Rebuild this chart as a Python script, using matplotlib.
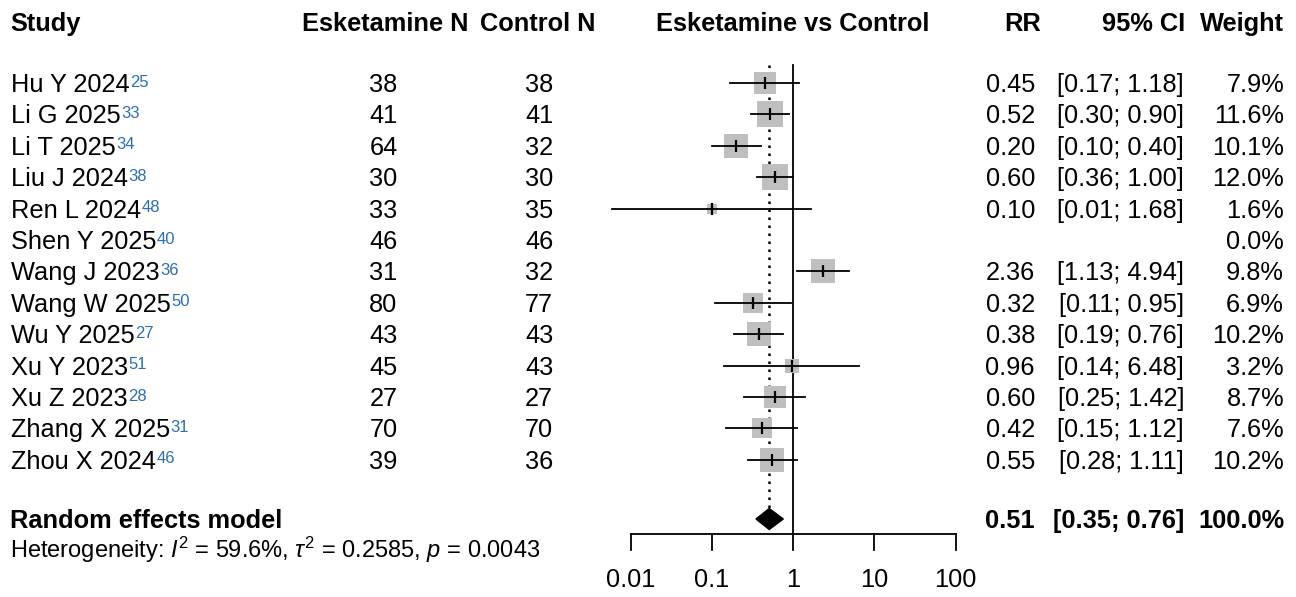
import matplotlib.pyplot as plt
import numpy as np

plt.rcParams['font.family'] = ['Liberation Sans', 'DejaVu Sans']
plt.rcParams['mathtext.fontset'] = 'custom'
plt.rcParams['mathtext.rm'] = 'Liberation Sans'
plt.rcParams['mathtext.it'] = 'Liberation Sans:italic'

# dane
studies = ["Hu Y 2024", "Li G 2025", "Li T 2025", "Liu J 2024", "Ren L 2024",
           "Shen Y 2025", "Wang J 2023", "Wang W 2025", "Wu Y 2025", "Xu Y 2023",
           "Xu Z 2023", "Zhang X 2025", "Zhou X 2024"]
refs = ["25", "33", "34", "38", "48", "40", "36", "50", "27", "51", "28", "31", "46"]
n_esk = [38, 41, 64, 30, 33, 46, 31, 80, 43, 45, 27, 70, 39]
n_ctrl = [38, 41, 32, 30, 35, 46, 32, 77, 43, 43, 27, 70, 36]
rr = [0.45, 0.52, 0.20, 0.60, 0.10, np.nan, 2.36, 0.32, 0.38, 0.96, 0.60, 0.42, 0.55]
ci_lo = [0.17, 0.30, 0.10, 0.36, 0.006, np.nan, 1.13, 0.11, 0.19, 0.14, 0.25, 0.15, 0.28]
ci_hi = [1.18, 0.90, 0.40, 1.00, 1.68, np.nan, 4.94, 0.95, 0.76, 6.48, 1.42, 1.12, 1.11]
weight = [7.9, 11.6, 10.1, 12.0, 1.6, 0.0, 9.8, 6.9, 10.2, 3.2, 8.7, 7.6, 10.2]

pooled_rr = 0.51
pooled_lo = 0.35
pooled_hi = 0.76
pooled_w = 100.0
hetero = r"Heterogeneity: $I^2$ = 59.6%, $\tau^2$ = 0.2585, $p$ = 0.0043"
xticks = [0.01, 0.1, 1, 10, 100]

# uklad (piksele)
W, H = 1296, 597
row0, drow = 83, 31.4
fs = 18.3
cap = 0.716 * fs * 100 / 72  # wysokosc wielkich liter w px

def ypix(i):
    return row0 + drow * i

def base(y):
    # linia bazowa tak, zeby srodek wielkich liter byl w y
    return y + cap / 2

fig = plt.figure(figsize=(W / 100, H / 100), dpi=100)

# os tekstowa na calej figurze
tx = fig.add_axes([0, 0, 1, 1])
tx.set_xlim(0, W)
tx.set_ylim(H, 0)
tx.axis('off')

hdr = dict(fontsize=fs, fontweight='bold', va='baseline')
yh = base(22)
tx.text(10, yh, "Study", ha='left', **hdr)
tx.text(385, yh, "Esketamine N", ha='center', **hdr)
tx.text(538, yh, "Control N", ha='center', **hdr)
tx.text(793, yh, "Esketamine vs Control", ha='center', **hdr)
tx.text(1041, yh, "RR", ha='right', **hdr)
tx.text(1185, yh, "95% CI", ha='right', **hdr)
tx.text(1284, yh, "Weight", ha='right', **hdr)

fig.canvas.draw()
for i, s in enumerate(studies):
    y = base(ypix(i))
    t = tx.text(11, y, s, ha='left', va='baseline', fontsize=fs)
    bb = t.get_window_extent(renderer=fig.canvas.get_renderer())
    tx.text(bb.x1 + 0.5, y - 5.5, refs[i], ha='left', va='baseline',
            fontsize=12, color='#2a6ebb')
    tx.text(383.5, y, str(n_esk[i]), ha='center', va='baseline', fontsize=fs)
    tx.text(539, y, str(n_ctrl[i]), ha='center', va='baseline', fontsize=fs)
    if not np.isnan(rr[i]):
        tx.text(1035, y, "%.2f" % rr[i], ha='right', va='baseline', fontsize=fs)
        tx.text(1184, y, "[%.2f; %.2f]" % (ci_lo[i], ci_hi[i]), ha='right',
                va='baseline', fontsize=fs)
    tx.text(1284, y, "%.1f%%" % weight[i], ha='right', va='baseline', fontsize=fs)

yp = 519
bp = base(yp)
tx.text(10, bp, "Random effects model", ha='left', va='baseline', fontsize=fs, fontweight='bold')
tx.text(1035, bp, "%.2f" % pooled_rr, ha='right', va='baseline', fontsize=fs, fontweight='bold')
tx.text(1184, bp, "[%.2f; %.2f]" % (pooled_lo, pooled_hi), ha='right', va='baseline',
        fontsize=fs, fontweight='bold')
tx.text(1284, bp, "%.1f%%" % pooled_w, ha='right', va='baseline', fontsize=fs, fontweight='bold')
tx.text(10, 550, hetero, ha='left', va='center', fontsize=17)

# wykres lesny
px_per_dec = 81.25
x1_px = 793
left_px, right_px = 595, 995
top_px, bot_px = 40, 597
fx = fig.add_axes([left_px / W, 1 - bot_px / H, (right_px - left_px) / W, (bot_px - top_px) / H])
fx.set_xscale('log')
fx.set_xlim(10 ** ((left_px - x1_px) / px_per_dec), 10 ** ((right_px - x1_px) / px_per_dec))
fx.set_ylim((bot_px - row0) / drow, (top_px - row0) / drow)
fx.axis('off')
fx.patch.set_alpha(0)

y_top = (65 - row0) / drow
y_axis = (534 - row0) / drow
y_tick = (550 - row0) / drow
y_lab = (580 - row0) / drow
y_pool = (yp - row0) / drow
dh = 10.5 / drow

fx.plot([1, 1], [y_top, y_axis], color='black', lw=1.3, zorder=1)
fx.plot([pooled_rr, pooled_rr], [y_top, y_pool - dh], color='black', lw=1.8,
        linestyle=(0, (1, 2.2)), zorder=1)

for i in range(len(studies)):
    if np.isnan(rr[i]):
        continue
    side = 26 * np.sqrt(weight[i] / 12.0)
    fx.plot(rr[i], i, marker='s', markersize=side * 0.72, color='#bfbfbf',
            markeredgewidth=0, zorder=2)
    fx.plot([ci_lo[i], ci_hi[i]], [i, i], color='black', lw=1.3, zorder=3)
    fx.plot(rr[i], i, marker='|', markersize=9, color='black', markeredgewidth=1.6, zorder=4)

fx.fill([pooled_lo, pooled_rr, pooled_hi, pooled_rr],
        [y_pool, y_pool - dh, y_pool, y_pool + dh], color='black', zorder=3)

fx.plot([xticks[0], xticks[-1]], [y_axis, y_axis], color='black', lw=1.3)
for t in xticks:
    fx.plot([t, t], [y_axis, y_tick], color='black', lw=1.3)
    fx.text(t, y_lab, "%g" % t, ha='center', va='center', fontsize=fs)

fig.savefig("out.png", dpi=100)
